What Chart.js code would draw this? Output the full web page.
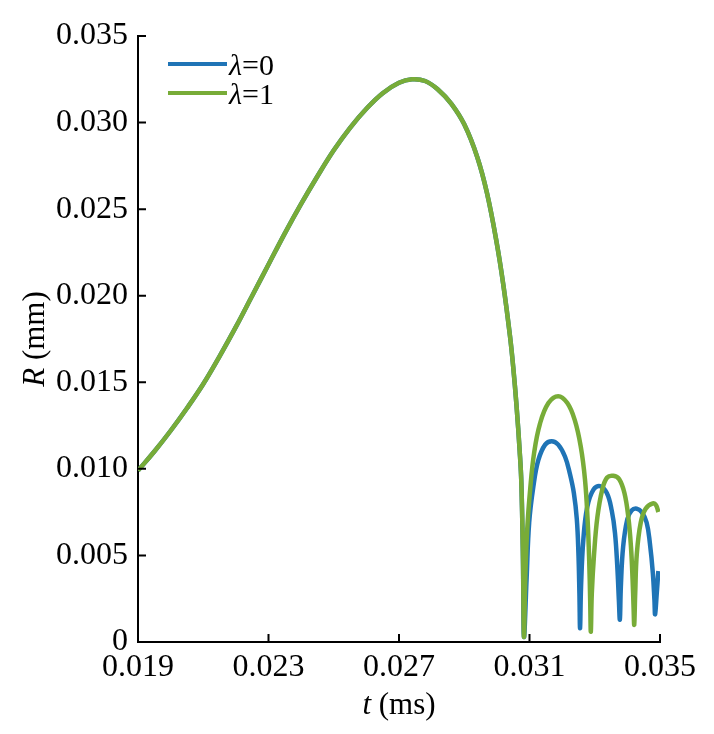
<!DOCTYPE html>
<html>
<head>
<meta charset="utf-8">
<script src="https://cdn.jsdelivr.net/npm/chart.js@4"></script>
<style>
  html, body { margin: 0; padding: 0; background: #fff; }
</style>
</head>
<body>
<canvas id="chart" width="714" height="734"></canvas>
<script>
const FONT = '"Liberation Serif", "Times New Roman", serif';

// growth and first collapse, identical for both cases
const tMain = [0.0190, 0.0195, 0.0200, 0.0205, 0.0210, 0.0215, 0.0220, 0.0225, 0.0230, 0.0235,
               0.0240, 0.0245, 0.0250, 0.0255, 0.0260, 0.0265, 0.0270, 0.0274, 0.0278, 0.0282,
               0.0286, 0.0290, 0.0294, 0.0297, 0.0300, 0.0302, 0.0304, 0.0305, 0.0306, 0.0307,
               0.03075, 0.0308, 0.03083];
const rMain = [0.0099, 0.0110, 0.0122, 0.0135, 0.0149, 0.0165, 0.0182, 0.0200, 0.0218, 0.0236,
               0.0253, 0.0269, 0.0284, 0.0297, 0.0308, 0.0317, 0.0323, 0.0325, 0.0324, 0.0319,
               0.0311, 0.0299, 0.0280, 0.0259, 0.0230, 0.0206, 0.0177, 0.0159, 0.0137, 0.0110,
               0.0092, 0.0048, 0.0003];

// rebounds, lambda = 0
const tBlue = [0.03091, 0.03099, 0.03112, 0.03127, 0.03148, 0.03168, 0.03188, 0.03209, 0.03224, 0.03236,
               0.03245, 0.03250, 0.03253, 0.03255, 0.03258, 0.03265, 0.03277, 0.03296, 0.03316, 0.03337,
               0.03352, 0.03362, 0.03369, 0.03374, 0.03377, 0.03380, 0.03387, 0.03400, 0.03413, 0.03429,
               0.03444, 0.03459, 0.03469, 0.03478, 0.03483, 0.03485, 0.03490, 0.03495];
const rBlue = [0.0036, 0.0069, 0.0090, 0.0105, 0.0114, 0.0116, 0.0114, 0.0107, 0.0097, 0.0086,
               0.0071, 0.0051, 0.0028, 0.0008, 0.0032, 0.0059, 0.0078, 0.0088, 0.0090, 0.0086,
               0.0076, 0.0063, 0.0044, 0.0024, 0.0013, 0.0032, 0.0055, 0.0071, 0.0076, 0.0077,
               0.0075, 0.0069, 0.0057, 0.0040, 0.0024, 0.0016, 0.0028, 0.0041];

// rebounds, lambda = 1
const tGreen = [0.03087, 0.03093, 0.03102, 0.03114, 0.03132, 0.03158, 0.03188, 0.03216, 0.03239, 0.03257,
                0.03270, 0.03278, 0.03283, 0.03286, 0.03288, 0.03291, 0.03298, 0.03308, 0.03323, 0.03338,
                0.03357, 0.03375, 0.03391, 0.03403, 0.03411, 0.03416, 0.03419, 0.03421, 0.03424, 0.03429,
                0.03441, 0.03456, 0.03478, 0.03488, 0.03495];
const rGreen = [0.0036, 0.0065, 0.0088, 0.0109, 0.0126, 0.0138, 0.0142, 0.0138, 0.0128, 0.0113,
                0.0094, 0.0071, 0.0047, 0.0024, 0.0006, 0.0028, 0.0051, 0.0072, 0.0088, 0.0095,
                0.0096, 0.0094, 0.0086, 0.0072, 0.0055, 0.0036, 0.0020, 0.0010, 0.0028, 0.0051,
                0.0069, 0.0077, 0.0080, 0.0079, 0.0075];

const xTicks = [0.019, 0.023, 0.027, 0.031, 0.035];
const yTicks = [0, 0.005, 0.010, 0.015, 0.020, 0.025, 0.030, 0.035];
const seriesLabels = ['λ=0', 'λ=1'];
const seriesColors = ['#1f74b6', '#78ac38'];

function toPoints(ts, rs) {
    return ts.map((t, i) => ({ x: t, y: rs[i] }));
}

const blueData = toPoints(tMain.concat(tBlue), rMain.concat(rBlue));
const greenData = toPoints(tMain.concat(tGreen), rMain.concat(rGreen));

// draw text made of italic / upright pieces, centred at (x, y)
function drawMixed(ctx, parts, x, y, size) {
    let total = 0;
    parts.forEach(p => {
        ctx.font = `${p[1]} ${size}px ${FONT}`;
        total += ctx.measureText(p[0]).width;
    });
    let cx = x - total / 2;
    ctx.textAlign = 'left';
    parts.forEach(p => {
        ctx.font = `${p[1]} ${size}px ${FONT}`;
        ctx.fillText(p[0], cx, y);
        cx += ctx.measureText(p[0]).width;
    });
}

// tick marks pointing into the plot
const innerTicks = {
    id: 'innerTicks',
    afterDraw(chart) {
        const { ctx, chartArea, scales } = chart;
        ctx.save();
        ctx.strokeStyle = '#000';
        ctx.lineWidth = 2;
        ctx.beginPath();
        xTicks.forEach(v => {
            const px = scales.x.getPixelForValue(v);
            ctx.moveTo(px, chartArea.bottom);
            ctx.lineTo(px, chartArea.bottom - 8);
        });
        yTicks.forEach(v => {
            const py = scales.y.getPixelForValue(v);
            ctx.moveTo(chartArea.left, py);
            ctx.lineTo(chartArea.left + 8, py);
        });
        ctx.stroke();
        ctx.restore();
    }
};

const axisTitles = {
    id: 'axisTitles',
    afterDraw(chart) {
        const { ctx, chartArea } = chart;
        ctx.save();
        ctx.fillStyle = '#000';
        ctx.textBaseline = 'middle';
        drawMixed(ctx, [['t', 'italic'], [' (ms)', 'normal']], (chartArea.left + chartArea.right) / 2, 706, 31);
        ctx.translate(36, (chartArea.top + chartArea.bottom) / 2);
        ctx.rotate(-Math.PI / 2);
        drawMixed(ctx, [['R', 'italic'], [' (mm)', 'normal']], 0, 0, 31);
        ctx.restore();
    }
};

const insideLegend = {
    id: 'insideLegend',
    afterDraw(chart) {
        const { ctx, chartArea } = chart;
        ctx.save();
        chart.data.datasets.forEach((ds, i) => {
            const y = chartArea.top + 28 + i * 29;
            const x0 = chartArea.left + 30;
            ctx.strokeStyle = ds.borderColor;
            ctx.lineWidth = 4;
            ctx.beginPath();
            ctx.moveTo(x0, y);
            ctx.lineTo(x0 + 59, y);
            ctx.stroke();
            ctx.fillStyle = '#000';
            ctx.textBaseline = 'middle';
            ctx.textAlign = 'left';
            const label = ds.label;
            ctx.font = `italic 30px ${FONT}`;
            ctx.fillText(label[0], x0 + 61, y + 3);
            const w = ctx.measureText(label[0]).width;
            ctx.font = `30px ${FONT}`;
            ctx.fillText(label.slice(1), x0 + 61 + w, y + 3);
        });
        ctx.restore();
    }
};

new Chart(document.getElementById('chart'), {
    type: 'line',
    data: {
        datasets: [
            {
                label: seriesLabels[0],
                data: blueData,
                borderColor: seriesColors[0],
                borderWidth: 4.5,
                pointRadius: 0,
                tension: 0.4,
                order: 1
            },
            {
                label: seriesLabels[1],
                data: greenData,
                borderColor: seriesColors[1],
                borderWidth: 4.5,
                pointRadius: 0,
                tension: 0.4,
                order: 0
            }
        ]
    },
    options: {
        responsive: false,
        animation: false,
        devicePixelRatio: 1,
        layout: { padding: { top: 36, right: 54, left: 0, bottom: 0 } },
        plugins: {
            legend: { display: false },
            tooltip: { enabled: false }
        },
        scales: {
            x: {
                type: 'linear',
                min: 0.019,
                max: 0.035,
                afterBuildTicks: scale => { scale.ticks = xTicks.map(v => ({ value: v })); },
                afterFit: scale => { scale.height = 92; },
                grid: { display: false, drawTicks: false },
                border: { display: true, color: '#000', width: 2 },
                ticks: {
                    color: '#000',
                    font: { family: FONT, size: 32 },
                    padding: 6,
                    maxRotation: 0,
                    callback: v => v.toFixed(3)
                }
            },
            y: {
                type: 'linear',
                min: 0,
                max: 0.035,
                afterBuildTicks: scale => { scale.ticks = yTicks.map(v => ({ value: v })); },
                afterFit: scale => { scale.width = 138; },
                grid: { display: false, drawTicks: false },
                border: { display: true, color: '#000', width: 2 },
                ticks: {
                    color: '#000',
                    font: { family: FONT, size: 32 },
                    padding: 10,
                    callback: v => (v === 0 ? '0' : v.toFixed(3))
                }
            }
        }
    },
    plugins: [innerTicks, axisTitles, insideLegend]
});
</script>
</body>
</html>
